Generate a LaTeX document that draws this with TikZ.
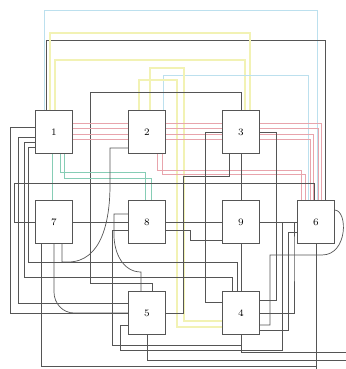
\documentclass[tikz,border=0pt]{standalone}
\usepackage{tikz}
\usetikzlibrary{positioning, backgrounds}
\definecolor{grafgris}{HTML}{555555}
\definecolor{grafazul}{HTML}{BCE0EE}
\definecolor{grafamar}{HTML}{F2F2B4}
\definecolor{grafrojo}{HTML}{E8A4AC}
\definecolor{grafverde}{HTML}{86CDB5}

\begin{document}
\begin{tikzpicture}[
        x=0.025cm, y=-0.025cm,
        font=\scriptsize,
        every node/.style={align=center, inner sep=0pt, outer sep=0pt},
        % ===== Estilos =====
        bloque/.style={rectangle, draw=grafgris, line width=0.6pt, fill=white,
                       minimum width=0.925cm, minimum height=1.075cm},
        cable/.style={draw=grafgris, line width=0.5pt},
        cableazul/.style={draw=grafazul, line width=0.7pt},
        cableamar/.style={draw=grafamar, line width=0.9pt},
        cablerojo/.style={draw=grafrojo, line width=0.7pt},
        cableverde/.style={draw=grafverde, line width=0.7pt}
    ]
        \useasboundingbox (0,0) rectangle (346,369);

        % ===== Bloques =====
        \foreach \n/\xc/\yc in {1/54/132, 2/147/132, 3/241/132,
                                7/54/222, 8/147/222, 9/241/222, 6/316/222,
                                5/147/313, 4/241/313}{
            \node[bloque] (n\n) at (\xc,\yc) {\n};
        }

        % ===== Salidas al borde =====
        \coordinate (sal1) at (346,352);
        \coordinate (sal2) at (346,360);
        \coordinate (sal3) at (316,369);

        \begin{scope}[on background layer]
        % ===== Lazos superiores =====
        \draw[cableazul] (44,0 |- n1.north) |- (317,10) -- (317,0 |- n6.north);
        \draw[cable] (46,0 |- n1.north) |- (325,40) -- (325,0 |- n6.north);
        \draw[cableamar] (50,0 |- n1.north) |- (250,33) -- (250,0 |- n3.north);
        \draw[cableamar] (55,0 |- n1.north) |- (245,60) -- (245,0 |- n3.north);
        \draw[cableazul] (163,0 |- n2.north) |- (308,75) -- (308,0 |- n6.north);
        \draw[cableamar] (139,0 |- n2.north) |- (177,80) |- (n4.west |- 0,327);
        \draw[cableamar] (150,0 |- n2.north) |- (184,68) |- (n4.west |- 0,321);
        \draw[cable] (n3.north) |- (90,92) |- (152,283) -- (152,0 |- n5.north);

        % ===== Haz rojo =====
        \foreach \dy/\xr in {123/321, 128/318, 134/313, 139/310}{
            \draw[cablerojo] (n1.east |- 0,\dy) -- (n2.west |- 0,\dy);
            \draw[cablerojo] (n2.east |- 0,\dy) -- (n3.west |- 0,\dy);
            \draw[cablerojo] (n3.east |- 0,\dy) -| (\xr,0 |- n6.north);
        }
        \draw[cablerojo] (157,0 |- n2.south) |- (301,170) -- (301,0 |- n6.north);
        \draw[cablerojo] (162,0 |- n2.south) |- (305,174) -- (305,0 |- n6.north);

        % ===== Verdes =====
        \draw[cableverde] (52,0 |- n1.south) -- (52,0 |- n7.north);
        \draw[cableverde] (60,0 |- n1.south) |- (145,172) -- (145,0 |- n8.north);
        \draw[cableverde] (64,0 |- n1.south) |- (151,178) -- (151,0 |- n8.north);

        % ===== Centro =====
        \draw[cable] (n3.south) -- (n9.north);
        \draw[cable] (n9.south) -- (n4.north);
        \draw[cable] (n7.west) -| (14,183) -| (314,0 |- n6.north);
        \draw[cable] (n7.east) -- (n8.west);
        \draw[cable] (n8.east) -- (n9.west);
        \draw[cable] (n8.east |- 0,230) -| (190,240) -- (n9.west |- 0,240);
        \draw[cable] (n5.east) -| (183,176) -| (229,0 |- n3.south);
        \draw[cable] (n3.west) -| (205,302) -- (n4.west |- 0,302);
        \draw[cable] (n3.east) -| (276,300) -- (n4.east |- 0,300);

        % ===== Izquierda =====
        \draw[cable] (n1.west |- 0,127) -| (10,313) -- (n5.west);
        \draw[cable] (n1.west |- 0,137) -| (18,303) -- (n5.west |- 0,303);
        \draw[cable] (n1.west |- 0,142) -| (24,277) -| (232,0 |- n4.north);
        \draw[cable] (n1.west |- 0,147) -| (28,262) -| (237,0 |- n4.north);

        % ===== Curvas =====
        \draw[cable] (n2.west |- 0,148) -| (110,185) to[out=-90,in=0] (68,262) -| (62,0 |- n7.south);
        \draw[cable] (n8.west |- 0,214) -| (114,235) to[out=-90,in=180] (141,272) -- (141,0 |- n5.north);
        \draw[cable] (n7.south) -- (54,292) to[out=-90,in=180] (74,313) -- (n5.west);
        \draw[cable] (n8.west |- 0,230) -| (112,345) -| (n4.south);

        % ===== Abajo =====
        \draw[cable] (41,0 |- n7.south) |- (316,366) -- (n6.south);
        \draw[cable] (n6.south) -- (sal3);
        \draw[cable] (n5.south) |- (sal2);
        \draw[cable] (n4.south) |- (sal1);
        \draw[cable] (n5.west |- 0,325) -| (120,350) -| (282,0 |- n6.west) -- (n6.west);

        % ===== Derecha =====
        \draw[cable] (n6.east |- 0,210) .. controls (348,210) and (348,255) .. (322,255)
            -- (270,255) |- (n4.east |- 0,325);
        \draw[cable] (n6.west |- 0,232) -| (288,330) -- (n4.east |- 0,330);
        \draw[cable] (n9.east) -| (294,250) |- (n4.east |- 0,313);
        \end{scope}
    \end{tikzpicture}
\end{document}
